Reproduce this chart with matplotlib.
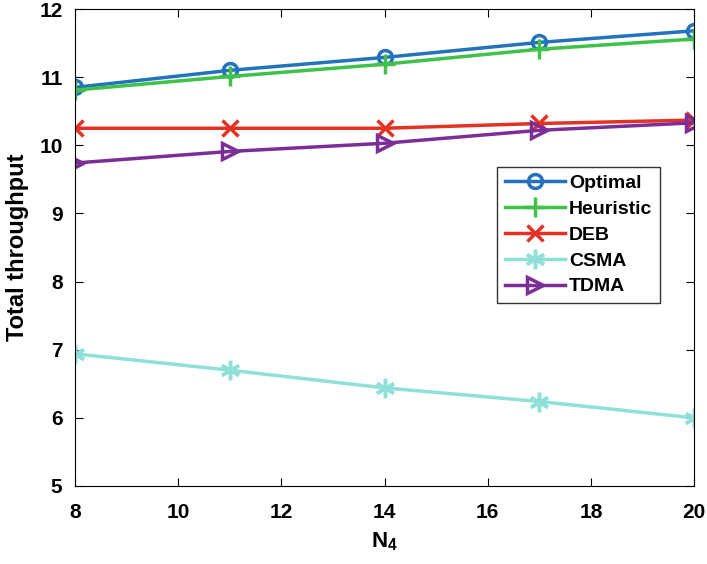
import matplotlib.pyplot as plt
import numpy as np

plt.rcParams['font.family'] = ['Liberation Sans', 'DejaVu Sans']
plt.rcParams['font.weight'] = 'bold'
plt.rcParams['mathtext.fontset'] = 'custom'
plt.rcParams['mathtext.bf'] = 'Liberation Sans:bold'

n4 = [8, 11, 14, 17, 20]
optimal = [10.85, 11.10, 11.29, 11.51, 11.68]
heuristic = [10.81, 11.01, 11.19, 11.41, 11.56]
deb = [10.25, 10.25, 10.25, 10.32, 10.37]
csma = [6.94, 6.70, 6.44, 6.24, 6.00]
tdma = [9.74, 9.91, 10.03, 10.22, 10.33]

fig = plt.figure(figsize=(7.07, 5.64), dpi=100)
ax = fig.add_axes([0.1061, 0.1383, 0.8755, 0.8457])

ax.plot(n4, optimal, color='#2372bb', marker='o', markersize=10, markerfacecolor='none',
        markeredgewidth=2.5, linewidth=2.5, label='Optimal')
ax.plot(n4, heuristic, color='#3ec24a', marker='+', markersize=14,
        markeredgewidth=2.5, linewidth=2.5, label='Heuristic')
ax.plot(n4, deb, color='#e33224', marker='x', markersize=11,
        markeredgewidth=2.5, linewidth=2.5, label='DEB')
ax.plot(n4, csma, color='#8fe0d8', marker=(6, 2, 0), markersize=14,
        markeredgewidth=2.5, linewidth=2.5, label='CSMA')
ax.plot(n4, tdma, color='#7b2e96', marker='>', markersize=11, markerfacecolor='none',
        markeredgewidth=2.5, linewidth=2.5, label='TDMA')

ax.set_xlim(8, 20)
ax.set_ylim(5, 12)
ax.set_xticks(np.arange(8, 21, 2))
ax.set_yticks(np.arange(5, 13, 1))
ax.tick_params(direction='in', top=True, right=True, labelsize=15, length=6)
ax.tick_params(axis='x', pad=12)
ax.tick_params(axis='y', pad=9)
for lab in ax.get_xticklabels() + ax.get_yticklabels():
    lab.set_fontweight('bold')
ax.set_xlabel(r'N$_\mathbf{4}$', fontsize=16, fontweight='bold', labelpad=6)
ax.set_ylabel('Total throughput', fontsize=17, fontweight='bold', labelpad=7)

leg = ax.legend(loc='upper left', bbox_to_anchor=(0.682, 0.669), fontsize=14,
                frameon=True, fancybox=False, edgecolor='black', handlelength=3.1,
                borderpad=0.4, labelspacing=0.42, handletextpad=0.2, borderaxespad=0)
leg.get_frame().set_linewidth(1)

plt.savefig('out.png')
